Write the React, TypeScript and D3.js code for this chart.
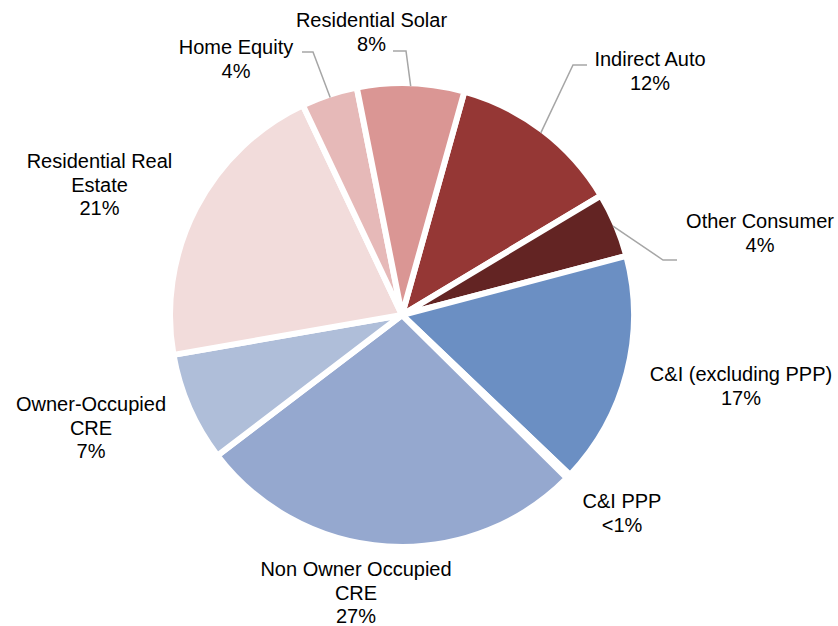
import React from "react";
import * as d3 from "d3";

// Slices, clockwise starting from Indirect Auto
const categories = [
  "Indirect Auto",
  "Other Consumer",
  "C&I (excluding PPP)",
  "C&I PPP",
  "Non Owner Occupied CRE",
  "Owner-Occupied CRE",
  "Residential Real Estate",
  "Home Equity",
  "Residential Solar",
];
const values = [12.05, 4.5, 16.2, 0.3, 27.2, 7.6, 20.7, 3.9, 7.45];
const pctLabels = ["12%", "4%", "17%", "<1%", "27%", "7%", "21%", "4%", "8%"];
const nameLines = [
  ["Indirect Auto"],
  ["Other Consumer"],
  ["C&I (excluding PPP)"],
  ["C&I PPP"],
  ["Non Owner Occupied", "CRE"],
  ["Owner-Occupied", "CRE"],
  ["Residential Real", "Estate"],
  ["Home Equity"],
  ["Residential Solar"],
];
const colors = [
  "#953735",
  "#632423",
  "#6B8FC3",
  "#4F6FA8",
  "#95A8CF",
  "#AFBED9",
  "#F2DCDB",
  "#E6B9B8",
  "#DA9694",
];

// Layout (label placement, manual as in the original)
const labelPos: [number, number][] = [
  [650, 66],
  [760, 228],
  [741, 381],
  [622, 508],
  [356, 576],
  [91, 411],
  [99.5, 168],
  [236, 54],
  [371.5, 27],
];
// leader elbow and end points (null = no leader)
const leaders: ([number, number, number, number] | null)[] = [
  [573, 65, 587, 65],
  [663, 260, 677, 260],
  null,
  null,
  null,
  null,
  null,
  [313, 52, 302, 52],
  [406, 51, 393, 51],
];

const W = 838;
const H = 626;
const CX = 402;
const CY = 315;
const R = 232;
const START = (15.6 * Math.PI) / 180;
const LINE_H = 23.5;

export default function App() {
  const pie = d3
    .pie<number>()
    .sort(null)
    .value((d) => d)
    .startAngle(START)
    .endAngle(START + 2 * Math.PI);
  const arcs = pie(values);
  const arc = d3.arc<d3.PieArcDatum<number>>().innerRadius(0).outerRadius(R);

  return (
    <svg
      width={W}
      height={H}
      style={{ position: "absolute", left: 0, top: 0, background: "#fff" }}
      fontFamily="'Liberation Sans', Arial, sans-serif"
    >
      <g transform={`translate(${CX},${CY})`}>
        {arcs.map((a, i) => (
          <path
            key={categories[i]}
            d={arc(a) || ""}
            fill={colors[i]}
            stroke="#fff"
            strokeWidth={6}
            strokeLinejoin="miter"
          />
        ))}
      </g>
      {arcs.map((a, i) => {
        const l = leaders[i];
        if (!l) return null;
        const mid = (a.startAngle + a.endAngle) / 2;
        const rr = R - 3;
        const sx = CX + rr * Math.sin(mid);
        const sy = CY - rr * Math.cos(mid);
        return (
          <polyline
            key={"l" + i}
            points={`${sx},${sy} ${l[0]},${l[1]} ${l[2]},${l[3]}`}
            fill="none"
            stroke="#A6A6A6"
            strokeWidth={1.5}
          />
        );
      })}
      {categories.map((c, i) => {
        const lines = [...nameLines[i], pctLabels[i]];
        const [x, y] = labelPos[i];
        return (
          <text
            key={"t" + c}
            x={x}
            y={y}
            textAnchor="middle"
            fontSize={20}
            fill="#000"
          >
            {lines.map((t, j) => (
              <tspan key={j} x={x} y={y + j * LINE_H}>
                {t}
              </tspan>
            ))}
          </text>
        );
      })}
    </svg>
  );
}
